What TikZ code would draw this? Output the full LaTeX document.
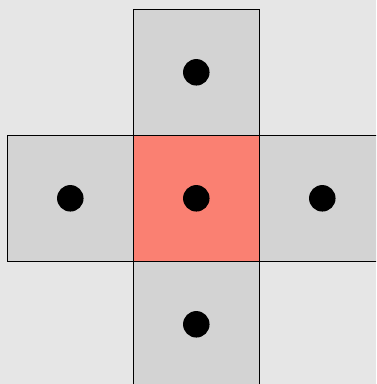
\documentclass[tikz,border=0pt]{standalone}
\usepackage{tikz}
\usetikzlibrary{positioning}
\definecolor{crossbg}{HTML}{E6E6E6}
\definecolor{cellgray}{HTML}{D3D3D3}
\definecolor{cellsalmon}{HTML}{FA8072}

\begin{document}
\begin{tikzpicture}[
  x=1pt, y=1pt,
  cell/.style={rectangle, draw=black, line width=1pt, fill=cellgray,
               minimum size=126pt, inner sep=0pt, outer sep=0pt},
  dot/.style={circle, fill=black, minimum size=26.5pt, inner sep=0pt},
  node distance=0pt
]
  \useasboundingbox (0,0) rectangle (376,-384);
  \clip (0,0) rectangle (376,-384);
  \fill[crossbg] (0,0) rectangle (376,-384);
  \node[cell,fill=cellsalmon] (mid) at (196.3,-198.3) {};
  \node[cell,above=of mid] (up) {};
  \node[cell,below=of mid] (down) {};
  \node[cell,left=of mid] (lft) {};
  \node[cell,right=of mid] (rgt) {};
  \foreach \c in {mid,up,down,lft,rgt}
    \node[dot] (d-\c) at (\c.center) {};
\end{tikzpicture}
\end{document}
